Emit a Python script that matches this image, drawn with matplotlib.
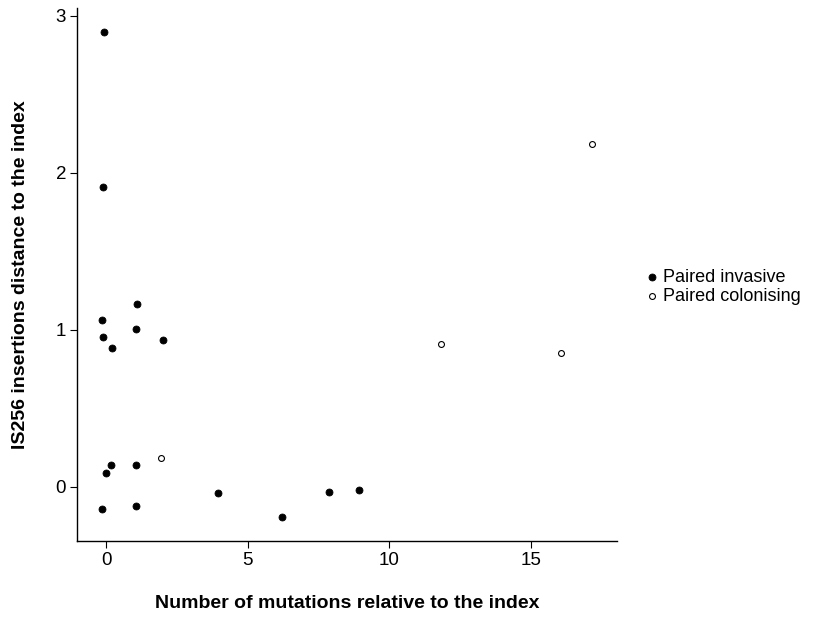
import matplotlib.pyplot as plt

plt.rcParams['font.family'] = ['Liberation Sans', 'DejaVu Sans']

# Paired invasive (filled)
inv_x = [-0.06, -0.12, 1.09, -0.15, 1.07, -0.10, 0.20, 2.00, 0.18, 1.04,
         -0.01, 3.94, -0.14, 1.07, 6.21, 7.88, 8.92]
inv_y = [2.896, 1.911, 1.166, 1.062, 1.004, 0.953, 0.887, 0.932, 0.140, 0.138,
         0.085, -0.038, -0.140, -0.123, -0.191, -0.032, -0.019]

# Paired colonising (open)
col_x = [1.93, 11.81, 16.06, 17.17]
col_y = [0.185, 0.911, 0.855, 2.183]

xticks = [0, 5, 10, 15]
yticks = [0, 1, 2, 3]

fig = plt.figure(figsize=(8.16, 6.17), dpi=100)
ax = fig.add_axes([0.0947, 0.1232, 0.6614, 0.8639])

ax.scatter(inv_x, inv_y, s=25, c='black', edgecolors='black', linewidths=0.6,
           label='Paired invasive', zorder=3)
ax.scatter(col_x, col_y, s=18, facecolors='white', edgecolors='black', linewidths=0.8,
           label='Paired colonising', zorder=3)

# ggplot-style 5% expansion
allx = inv_x + col_x
ally = inv_y + col_y
dx = (max(allx) - min(allx)) * 0.05
dy = (max(ally) - min(ally)) * 0.05
ax.set_xlim(min(allx) - dx, max(allx) + dx)
ax.set_ylim(min(ally) - dy, max(ally) + dy)

ax.set_xticks(xticks)
ax.set_yticks(yticks)
ax.tick_params(labelsize=13.5, length=5, width=0.8, colors='black', pad=3)
for side in ['top', 'right']:
    ax.spines[side].set_visible(False)
for side in ['left', 'bottom']:
    ax.spines[side].set_linewidth(1.0)

ax.set_xlabel('Number of mutations relative to the index', fontsize=14,
              fontweight='bold', labelpad=19)
ax.set_ylabel('IS256 insertions distance to the index', fontsize=14,
              fontweight='bold', labelpad=19)

fig.legend(loc='center left', bbox_to_anchor=(0.775, 0.535), frameon=False,
           fontsize=13, handletextpad=0.0, labelspacing=0.1, markerscale=1.0,
           borderpad=0, handlelength=1.2)

plt.savefig('out.png', dpi=100)
